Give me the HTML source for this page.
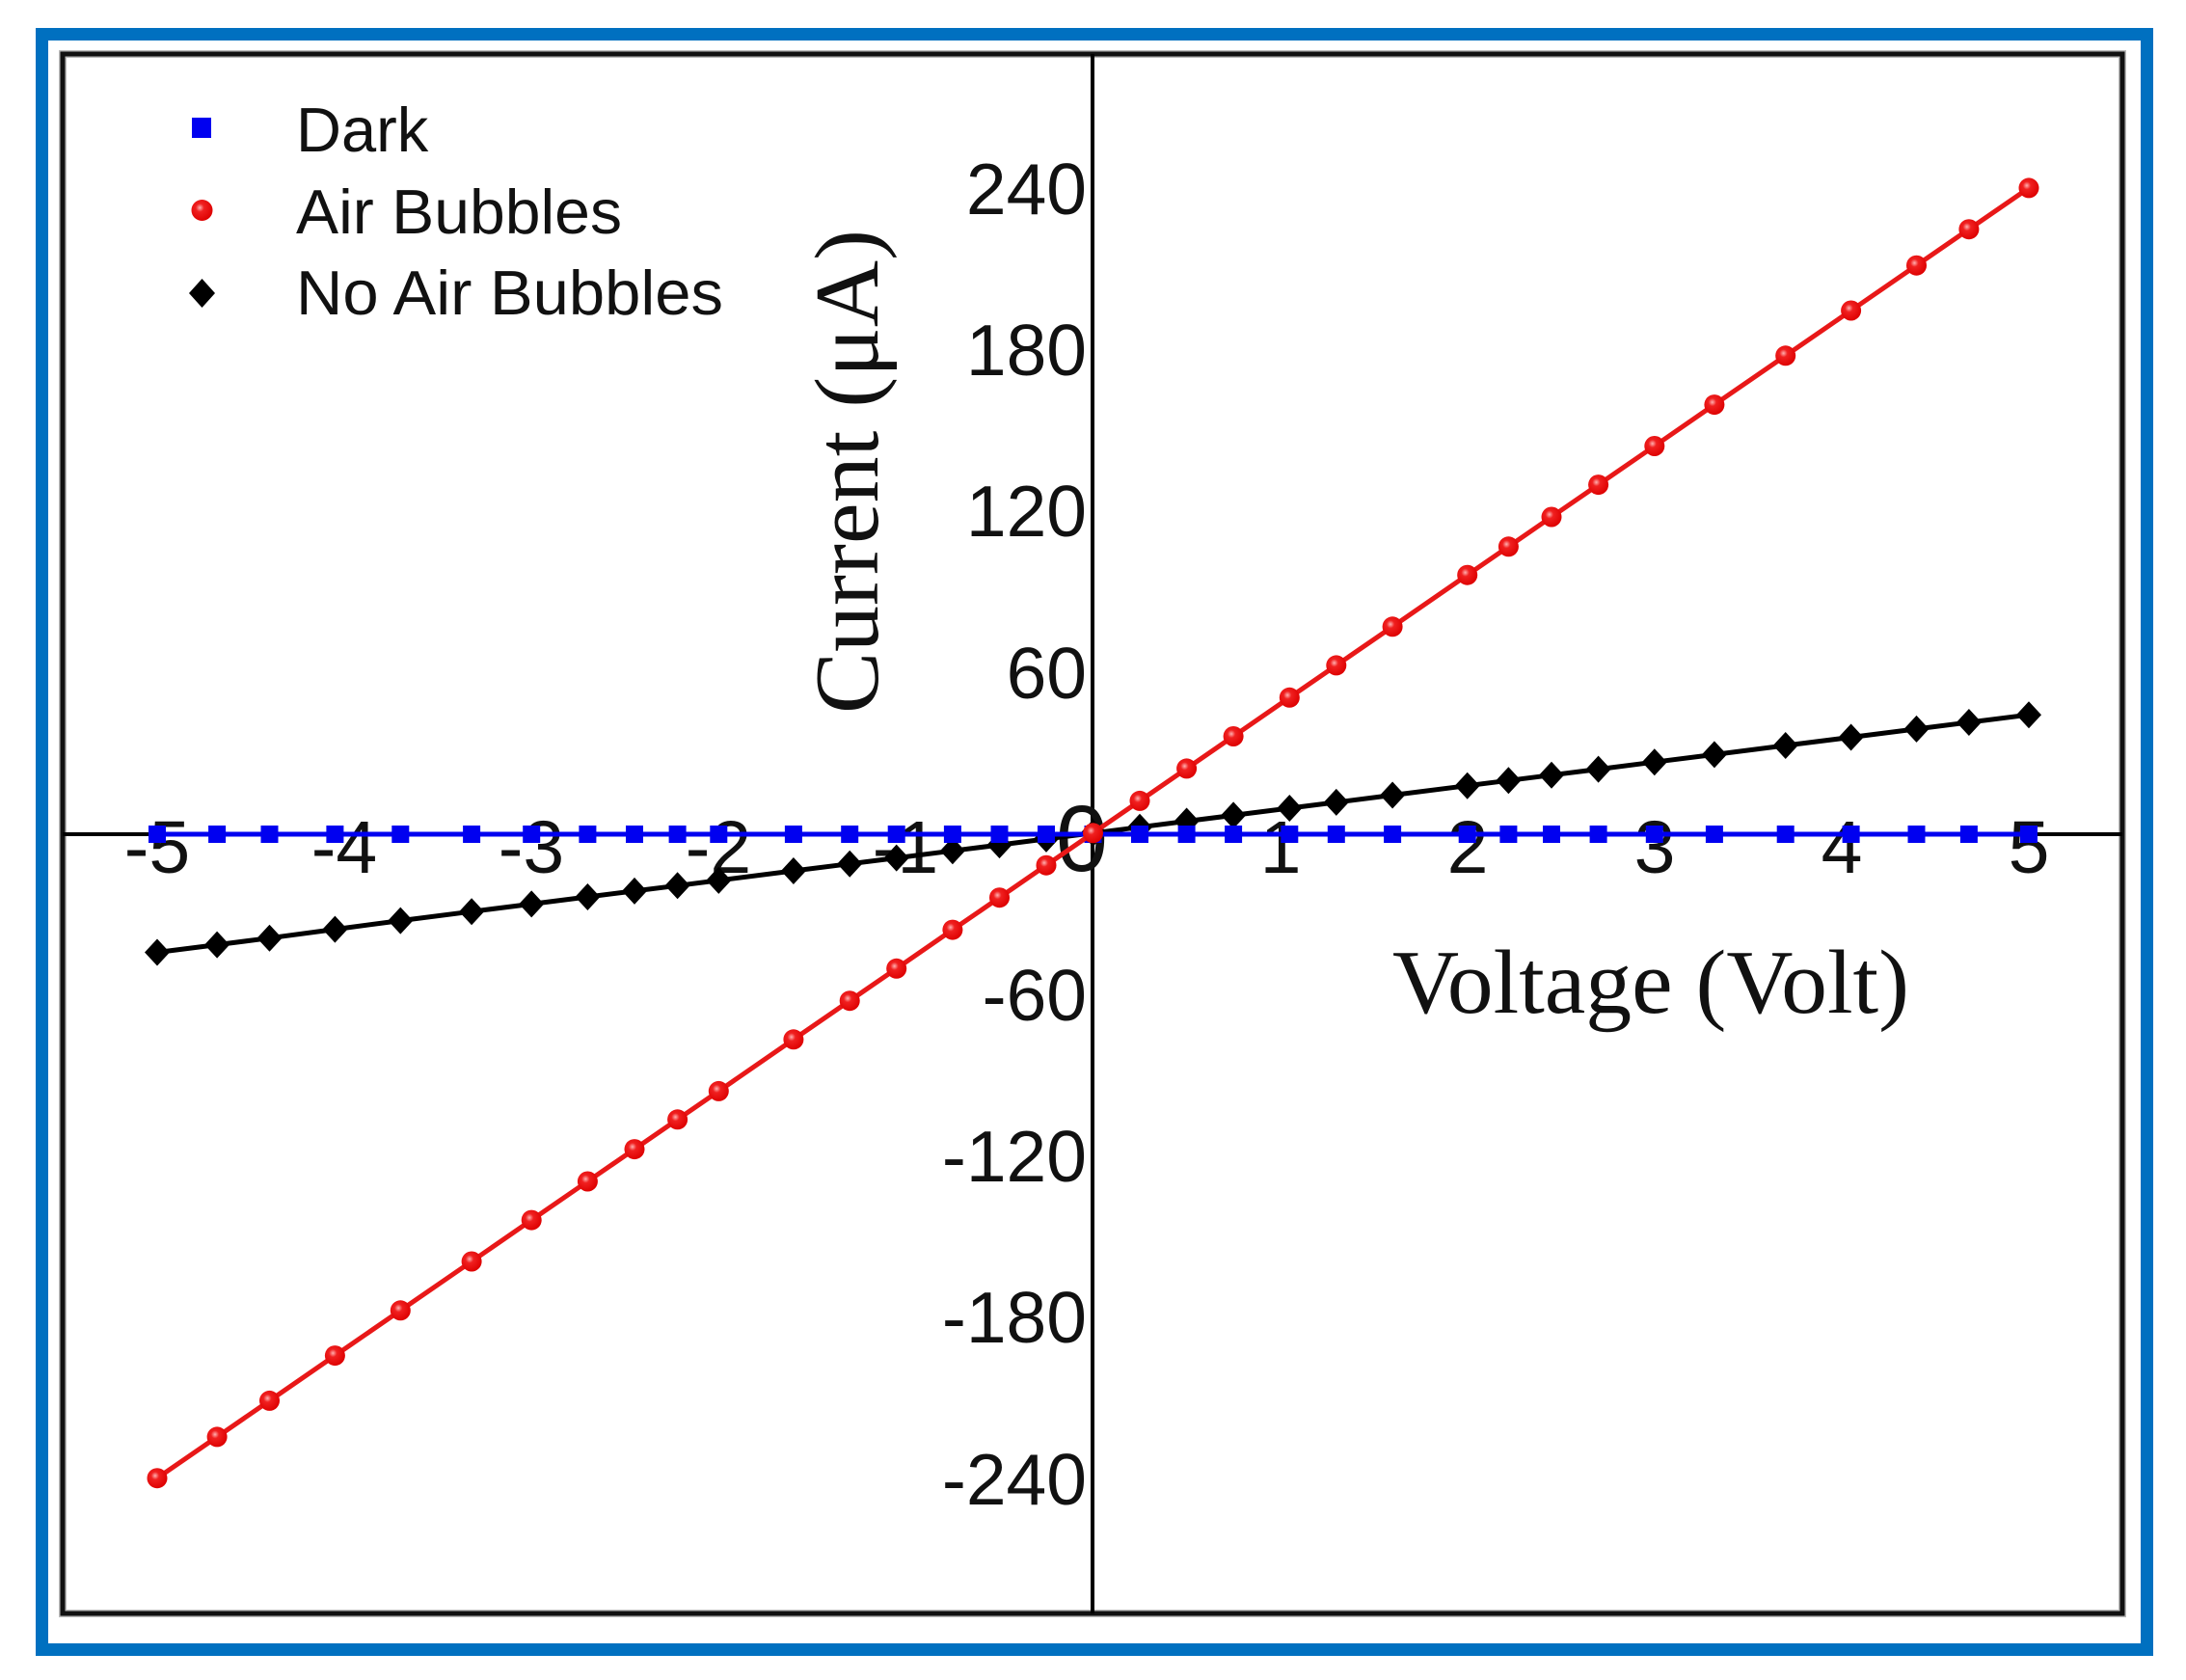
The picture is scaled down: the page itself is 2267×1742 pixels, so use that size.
<!DOCTYPE html>
<html>
<head>
<meta charset="utf-8">
<style>
html,body{margin:0;padding:0;background:#fff;}
svg{display:block;}
.tk{font-family:"Liberation Sans",Arial,sans-serif;font-size:77px;fill:#111;}
.ty{font-family:"Liberation Sans",Arial,sans-serif;font-size:75px;fill:#111;}
.lg{font-family:"Liberation Sans",Arial,sans-serif;font-size:65px;fill:#111;}
.ti{font-family:"Liberation Serif","Times New Roman",serif;font-size:94px;fill:#111;}
</style>
</head>
<body>
<svg width="2267" height="1742" viewBox="0 0 2267 1742" xmlns="http://www.w3.org/2000/svg">
<defs>
  <radialGradient id="rg" cx="0.4" cy="0.38" r="0.65">
    <stop offset="0" stop-color="#ffb0b0"/>
    <stop offset="0.3" stop-color="#f02020"/>
    <stop offset="1" stop-color="#dd0000"/>
  </radialGradient>
  <marker id="mSq" markerUnits="userSpaceOnUse" markerWidth="24" markerHeight="24" refX="12" refY="12" overflow="visible">
    <rect x="3" y="3" width="18" height="18" fill="#0000f0"/>
  </marker>
  <marker id="mCi" markerUnits="userSpaceOnUse" markerWidth="24" markerHeight="24" refX="12" refY="12" overflow="visible">
    <circle cx="12" cy="12" r="10.5" fill="url(#rg)"/>
  </marker>
  <marker id="mDi" markerUnits="userSpaceOnUse" markerWidth="28" markerHeight="30" refX="14" refY="15" overflow="visible">
    <polygon points="14,1 27,15 14,29 1,15" fill="#000"/>
  </marker>
</defs>

<rect x="0" y="0" width="2267" height="1742" fill="#fff"/>

<!-- blue frame -->
<rect x="43.5" y="35.5" width="2183" height="1675" fill="none" stroke="#0070c0" stroke-width="13"/>

<!-- plot frame -->
<rect x="65" y="56" width="2136" height="1617" fill="none" stroke="#bbb" stroke-width="8"/>
<rect x="65" y="56" width="2136" height="1617" fill="none" stroke="#111" stroke-width="5"/>

<!-- axes -->
<line x1="65" y1="865" x2="2201" y2="865" stroke="#000" stroke-width="4"/>
<line x1="1133" y1="56" x2="1133" y2="1673" stroke="#000" stroke-width="4"/>

<!-- x tick labels -->
<g class="tk" text-anchor="middle">
  <text x="163" y="905">-5</text>
  <text x="357" y="905">-4</text>
  <text x="551" y="905">-3</text>
  <text x="745" y="905">-2</text>
  <text x="939" y="905">-1</text>
  <text x="1328" y="905">1</text>
  <text x="1522" y="905">2</text>
  <text x="1716" y="905">3</text>
  <text x="1910" y="905">4</text>
  <text x="2104" y="905">5</text>
</g>
<text x="1122" y="903" text-anchor="middle" font-family="Liberation Sans, Arial, sans-serif" font-size="97" fill="#111">0</text>

<!-- y tick labels -->
<g class="ty" text-anchor="end">
  <text x="1127" y="222">240</text>
  <text x="1127" y="389">180</text>
  <text x="1127" y="556">120</text>
  <text x="1127" y="724">60</text>
  <text x="1127" y="1058">-60</text>
  <text x="1127" y="1225">-120</text>
  <text x="1127" y="1392">-180</text>
  <text x="1127" y="1560">-240</text>
</g>

<!-- axis titles -->
<text class="ti" transform="translate(910,740) rotate(-90)" textLength="502" lengthAdjust="spacingAndGlyphs">Current (μA)</text>
<text class="ti" x="1444" y="1050" textLength="536" lengthAdjust="spacingAndGlyphs">Voltage (Volt)</text>

<!-- No Air Bubbles -->
<polyline fill="none" stroke="#000" stroke-width="5" stroke-linejoin="round"
 marker-start="url(#mDi)" marker-mid="url(#mDi)" marker-end="url(#mDi)"
 points="163.0,987.5 225.1,979.6 279.5,972.7 347.4,963.6 415.3,954.6 489.1,945.2 551.2,937.4 609.4,930.0 658.0,923.9 702.6,918.3 745.3,912.9 822.9,903.0 881.2,895.7 929.7,889.6 987.9,882.2 1036.5,876.1 1085.0,869.9 1133.5,863.8 1182.0,857.7 1230.6,851.5 1279.1,845.4 1337.3,838.0 1385.8,831.9 1444.1,824.5 1521.7,814.7 1564.4,809.3 1609.0,803.7 1657.6,797.6 1715.8,790.2 1777.9,782.4 1851.7,773.0 1919.6,764.5 1987.5,755.9 2041.9,749.0 2104.0,741.2"/>

<!-- Dark -->
<polyline fill="none" stroke="#0000f0" stroke-width="5"
 marker-start="url(#mSq)" marker-mid="url(#mSq)" marker-end="url(#mSq)"
 points="163.0,865 225.1,865 279.5,865 347.4,865 415.3,865 489.1,865 551.2,865 609.4,865 658.0,865 702.6,865 745.3,865 822.9,865 881.2,865 929.7,865 987.9,865 1036.5,865 1085.0,865 1133.5,865 1182.0,865 1230.6,865 1279.1,865 1337.3,865 1385.8,865 1444.1,865 1521.7,865 1564.4,865 1609.0,865 1657.6,865 1715.8,865 1777.9,865 1851.7,865 1919.6,865 1987.5,865 2041.9,865 2104.0,865"/>

<!-- Air Bubbles -->
<polyline fill="none" stroke="#e81818" stroke-width="5" stroke-linejoin="round"
 marker-start="url(#mCi)" marker-mid="url(#mCi)" marker-end="url(#mCi)"
 points="163.0,1532.7 225.1,1489.9 279.5,1452.4 347.4,1405.6 415.3,1358.8 489.1,1308.0 551.2,1265.1 609.4,1225.0 658.0,1191.6 702.6,1160.8 745.3,1131.4 822.9,1077.8 881.2,1037.7 929.7,1004.3 987.9,964.1 1036.5,930.7 1085.0,897.2 1133.5,863.8 1182.0,830.4 1230.6,796.9 1279.1,763.5 1337.3,723.3 1385.8,689.9 1444.1,649.8 1521.7,596.2 1564.4,566.8 1609.0,536.0 1657.6,502.6 1715.8,462.5 1777.9,419.6 1851.7,368.8 1919.6,322.0 1987.5,275.2 2041.9,237.7 2104.0,194.9"/>

<!-- legend -->
<rect x="199" y="122" width="20" height="21" fill="#0000f0"/>
<circle cx="209.5" cy="218" r="11" fill="url(#rg)"/>
<polygon points="209.5,289 223,304 209.5,319 196,304" fill="#000"/>
<text class="lg" x="307" y="157">Dark</text>
<text class="lg" x="307" y="242" textLength="338" lengthAdjust="spacingAndGlyphs">Air Bubbles</text>
<text class="lg" x="307" y="326" textLength="443" lengthAdjust="spacingAndGlyphs">No Air Bubbles</text>
</svg>
</body>
</html>
